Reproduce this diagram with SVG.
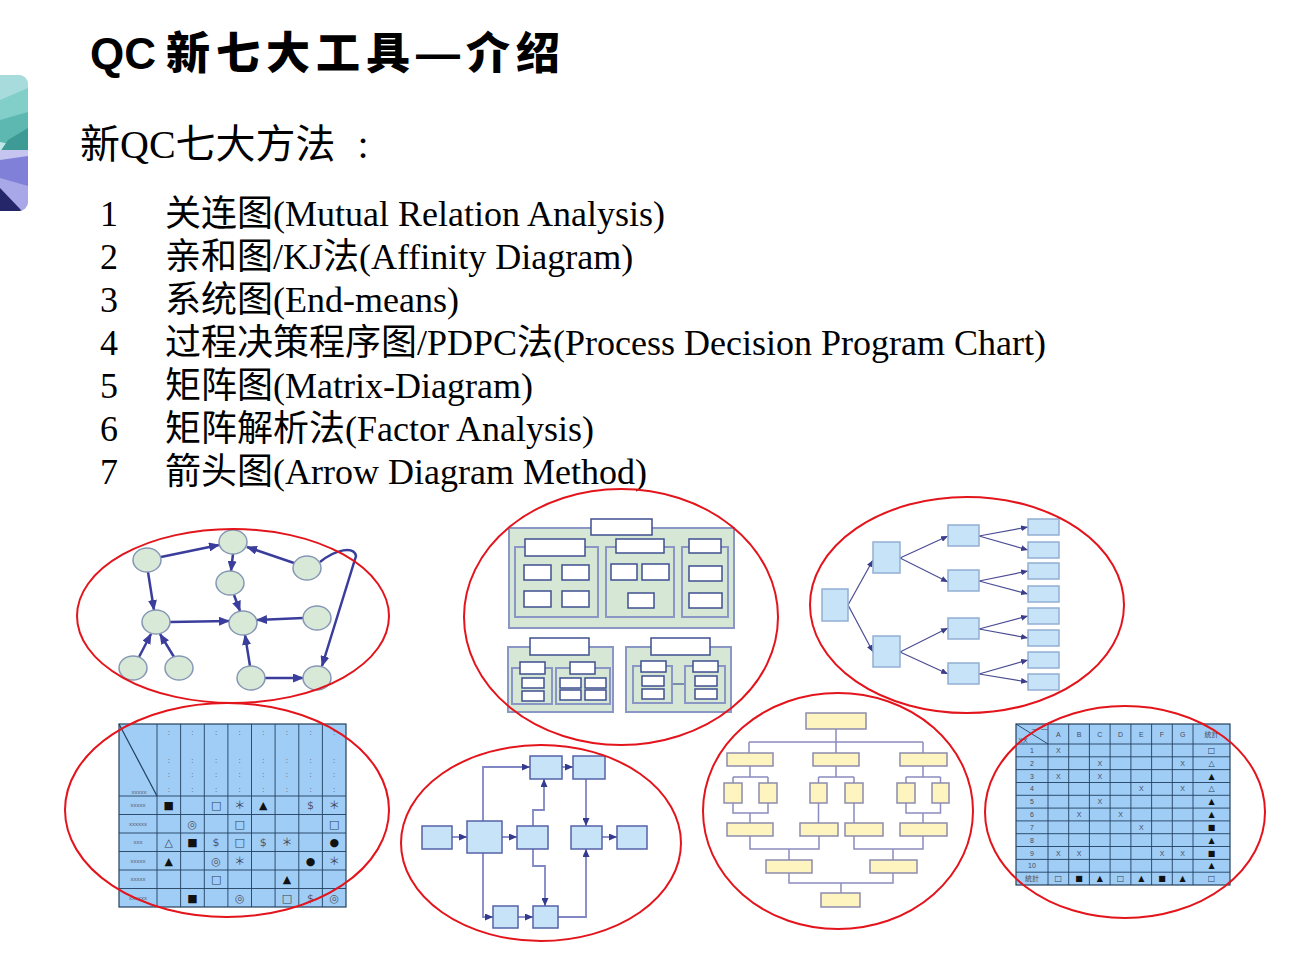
<svg xmlns="http://www.w3.org/2000/svg" width="1296" height="972" viewBox="0 0 1296 972">
<style>
.ring{fill:none;stroke:#e3141b;stroke-width:2}
.gn{fill:#d8e9d8;stroke:#8597b5;stroke-width:1.5}
.ge{fill:none;stroke:#3a3d9c;stroke-width:2.5;marker-end:url(#ah)}
.pan{fill:#d6e8d5;stroke:#8a96c4;stroke-width:2}
.wb{fill:#fff;stroke:#3f4f90;stroke-width:1.5}
.tb{fill:#c7e3f7;stroke:#93aed2;stroke-width:1.5}
.te{fill:none;stroke:#4a4c92;stroke-width:1.2;marker-end:url(#ta)}
.ab{fill:#c7e3f7;stroke:#5562a8;stroke-width:1.5}
.ae{fill:none;stroke:#8186c4;stroke-width:1.8;marker-end:url(#aa)}
.yb{fill:#fdf4c0;stroke:#8c8cae;stroke-width:1.5}
.yl{fill:none;stroke:#8c8cc0;stroke-width:1.5}
.mx{fill:#9fcdf6;stroke:#23405e;stroke-width:1.2}
.ml{fill:none;stroke:#23405e;stroke-width:0.9}
.sm{font-family:"Liberation Sans","Noto Sans CJK SC",sans-serif;font-size:6px;fill:#5a5a6a;text-anchor:middle}
.sx{font-family:"Liberation Sans","Noto Sans CJK SC",sans-serif;font-size:7px;fill:#4a4a5a;text-anchor:middle}
.sy{font-family:"DejaVu Sans","Noto Sans CJK SC",sans-serif;font-size:11px;text-anchor:middle;fill:#111}
.sz{font-family:"DejaVu Sans","Noto Sans CJK SC",sans-serif;font-size:8px;text-anchor:middle;fill:#111}
.co{font-family:"Liberation Sans",sans-serif;font-size:8px;text-anchor:middle;fill:#556}
.li{font-family:"Liberation Serif","Noto Sans CJK SC",serif;font-size:36px;fill:#000}
</style>
<defs>
<marker id="ah" markerUnits="userSpaceOnUse" markerWidth="11" markerHeight="9" refX="10" refY="4.5" orient="auto"><path d="M0,0 L11,4.5 L0,9 Z" fill="#3a3d9c"/></marker>
<marker id="ta" markerUnits="userSpaceOnUse" markerWidth="7" markerHeight="6" refX="7" refY="3" orient="auto"><path d="M0,0 L7,3 L0,6 Z" fill="#3a3d8c"/></marker>
<marker id="aa" markerUnits="userSpaceOnUse" markerWidth="8" markerHeight="7" refX="8" refY="3.5" orient="auto"><path d="M0,0 L8,3.5 L0,7 Z" fill="#343a8e"/></marker>
<clipPath id="dc"><rect x="-20" y="75" width="48" height="136" rx="9"/></clipPath>
</defs>

<g id="decor" clip-path="url(#dc)">
<rect x="-20" y="75" width="48" height="136" fill="#c0e6e8"/>
<polygon points="0,75 28,75 28,95 0,110" fill="#a8dcdc"/>
<polygon points="0,100 28,88 28,125 0,135" fill="#82cfca"/>
<polygon points="0,120 28,112 28,148 0,142" fill="#5cb8b0"/>
<polygon points="8,140 28,128 28,152 0,152" fill="#3d9a94"/>
<polygon points="0,150 28,150 28,175 0,168" fill="#c5c5f0"/>
<polygon points="0,160 28,156 28,190 0,182" fill="#8080d8"/>
<polygon points="0,178 28,186 28,211 0,211" fill="#a8a8e8"/>
<polygon points="0,188 22,211 0,211" fill="#25256a"/>
</g>

<g id="title">
<text x="90" y="69" font-family="'Liberation Sans','Noto Sans CJK SC',sans-serif" font-weight="900" font-size="44" fill="#000">QC<tspan x="166" letter-spacing="6">新七大工具—介绍</tspan></text>
</g>
<g id="subtitle">
<text x="80" y="158" font-family="'Liberation Serif','Noto Sans CJK SC',serif" font-size="40" fill="#000">新QC七大方法<tspan dx="22">:</tspan></text>
</g>
<g id="list">
<text class="li" x="100" y="226">1</text><text class="li" x="165" y="226">关连图(Mutual Relation Analysis)</text>
<text class="li" x="100" y="269">2</text><text class="li" x="165" y="269">亲和图/KJ法(Affinity Diagram)</text>
<text class="li" x="100" y="312">3</text><text class="li" x="165" y="312">系统图(End-means)</text>
<text class="li" x="100" y="355">4</text><text class="li" x="165" y="355">过程决策程序图/PDPC法(Process Decision Program Chart)</text>
<text class="li" x="100" y="398">5</text><text class="li" x="165" y="398">矩阵图(Matrix-Diagram)</text>
<text class="li" x="100" y="441">6</text><text class="li" x="165" y="441">矩阵解析法(Factor Analysis)</text>
<text class="li" x="100" y="484">7</text><text class="li" x="165" y="484">箭头图(Arrow Diagram Method)</text>
</g>

<!-- 1: relation graph -->
<g id="relation-graph">
<g id="rg-connectors">
<path class="ge" d="M161,557 L219,545"/>
<path class="ge" d="M294,563 L247,547"/>
<path class="ge" d="M233,554 L231,571"/>
<path class="ge" d="M234,595 L240,611"/>
<path class="ge" d="M148,572 L154,610"/>
<path class="ge" d="M170,622 L229,621"/>
<path class="ge" d="M303,618 L257,620"/>
<path class="ge" d="M139,657 L151,634"/>
<path class="ge" d="M174,657 L160,634"/>
<path class="ge" d="M250,666 L245,635"/>
<path class="ge" d="M265,678 L303,678"/>
<path class="ge" d="M320,562 C336,549 354,546 356,556 L322,666"/>
</g>
<g id="rg-nodes">
<ellipse class="gn" cx="233" cy="542" rx="14" ry="12"/>
<ellipse class="gn" cx="147" cy="560" rx="14" ry="12"/>
<ellipse class="gn" cx="307" cy="568" rx="14" ry="12"/>
<ellipse class="gn" cx="230" cy="583" rx="14" ry="12"/>
<ellipse class="gn" cx="156" cy="622" rx="14" ry="12"/>
<ellipse class="gn" cx="243" cy="623" rx="14" ry="12"/>
<ellipse class="gn" cx="317" cy="618" rx="14" ry="12"/>
<ellipse class="gn" cx="133" cy="668" rx="14" ry="12"/>
<ellipse class="gn" cx="179" cy="668" rx="14" ry="12"/>
<ellipse class="gn" cx="251" cy="678" rx="14" ry="12"/>
<ellipse class="gn" cx="317" cy="678" rx="14" ry="12"/>
</g>
</g>

<!-- 2: affinity diagram -->
<g id="affinity">
<rect class="pan" x="509" y="528" width="225" height="100"/>
<rect class="wb" x="591" y="519" width="61" height="16"/>
<rect class="pan" x="515" y="547" width="83" height="70"/>
<rect class="wb" x="525" y="539" width="60" height="17"/>
<rect class="wb" x="524" y="565" width="27" height="15"/>
<rect class="wb" x="562" y="565" width="27" height="15"/>
<rect class="wb" x="524" y="591" width="27" height="16"/>
<rect class="wb" x="562" y="591" width="27" height="16"/>
<rect class="pan" x="606" y="547" width="68" height="70"/>
<rect class="wb" x="616" y="539" width="48" height="14"/>
<rect class="wb" x="611" y="564" width="26" height="16"/>
<rect class="wb" x="642" y="564" width="27" height="16"/>
<rect class="wb" x="628" y="593" width="26" height="15"/>
<rect class="pan" x="682" y="547" width="46" height="70"/>
<rect class="wb" x="689" y="539" width="32" height="14"/>
<rect class="wb" x="689" y="566" width="33" height="15"/>
<rect class="wb" x="689" y="593" width="33" height="15"/>

<rect class="pan" x="508" y="647" width="105" height="65"/>
<rect class="wb" x="530" y="638" width="59" height="17"/>
<rect class="pan" x="512" y="668" width="40" height="36"/>
<rect class="wb" x="520" y="662" width="25" height="12"/>
<rect class="wb" x="522" y="678" width="22" height="10"/>
<rect class="wb" x="522" y="691" width="22" height="10"/>
<rect class="pan" x="556" y="668" width="54" height="36"/>
<rect class="wb" x="570" y="662" width="25" height="12"/>
<rect class="wb" x="560" y="678" width="21" height="10"/>
<rect class="wb" x="585" y="678" width="21" height="10"/>
<rect class="wb" x="560" y="690" width="21" height="10"/>
<rect class="wb" x="585" y="690" width="21" height="10"/>

<rect class="pan" x="626" y="647" width="105" height="65"/>
<rect class="wb" x="651" y="638" width="59" height="17"/>
<line x1="672" y1="684" x2="685" y2="684" stroke="#3f4f90" stroke-width="1.2"/>
<rect class="pan" x="633" y="666" width="39" height="37"/>
<rect class="wb" x="641" y="661" width="25" height="11"/>
<rect class="wb" x="642" y="676" width="22" height="10"/>
<rect class="wb" x="642" y="689" width="22" height="10"/>
<rect class="pan" x="685" y="666" width="40" height="37"/>
<rect class="wb" x="693" y="661" width="25" height="11"/>
<rect class="wb" x="695" y="676" width="22" height="10"/>
<rect class="wb" x="695" y="689" width="22" height="10"/>
</g>

<!-- 3: system (tree) diagram -->
<g id="system-tree">
<g id="st-connectors">
<path class="te" d="M848,605 L873,560"/>
<path class="te" d="M848,605 L873,652"/>
<path class="te" d="M900,558 L948,536"/>
<path class="te" d="M900,558 L948,582"/>
<path class="te" d="M900,652 L948,628"/>
<path class="te" d="M900,652 L948,674"/>
<path class="te" d="M979,536 L1028,527"/>
<path class="te" d="M979,536 L1028,550"/>
<path class="te" d="M979,581 L1028,571"/>
<path class="te" d="M979,581 L1028,594"/>
<path class="te" d="M979,629 L1028,616"/>
<path class="te" d="M979,629 L1028,638"/>
<path class="te" d="M979,674 L1028,660"/>
<path class="te" d="M979,674 L1028,682"/>
</g>
<g id="st-nodes">
<rect class="tb" x="822" y="589" width="26" height="32"/>
<rect class="tb" x="873" y="542" width="27" height="31"/>
<rect class="tb" x="873" y="636" width="27" height="31"/>
<rect class="tb" x="948" y="525" width="31" height="21"/>
<rect class="tb" x="948" y="570" width="31" height="21"/>
<rect class="tb" x="948" y="618" width="31" height="21"/>
<rect class="tb" x="948" y="663" width="31" height="21"/>
<rect class="tb" x="1028" y="519" width="31" height="16"/>
<rect class="tb" x="1028" y="542" width="31" height="16"/>
<rect class="tb" x="1028" y="563" width="31" height="16"/>
<rect class="tb" x="1028" y="586" width="31" height="16"/>
<rect class="tb" x="1028" y="608" width="31" height="16"/>
<rect class="tb" x="1028" y="630" width="31" height="16"/>
<rect class="tb" x="1028" y="652" width="31" height="16"/>
<rect class="tb" x="1028" y="674" width="31" height="16"/>
</g>
</g>

<!-- 4: matrix diagram -->
<g id="matrix">
<rect class="mx" x="119" y="724" width="227" height="183"/>
<path class="ml" d="M157,724V907 M180.6,724V907 M204.3,724V907 M227.9,724V907 M251.5,724V907 M275.1,724V907 M298.8,724V907 M322.4,724V907 M119,796H346 M119,814.5H346 M119,833H346 M119,851.5H346 M119,870H346 M119,888.5H346"/>
<line x1="119" y1="724" x2="157" y2="796" stroke="#23405e" stroke-width="1.2"/>
<g class="co">
<text x="168.8" y="735">:</text><text x="168.8" y="763">:</text><text x="168.8" y="777">:</text><text x="168.8" y="792">:</text>
<text x="192.4" y="735">:</text><text x="192.4" y="763">:</text><text x="192.4" y="777">:</text><text x="192.4" y="792">:</text>
<text x="216.1" y="735">:</text><text x="216.1" y="763">:</text><text x="216.1" y="777">:</text><text x="216.1" y="792">:</text>
<text x="239.7" y="735">:</text><text x="239.7" y="763">:</text><text x="239.7" y="777">:</text><text x="239.7" y="792">:</text>
<text x="263.3" y="735">:</text><text x="263.3" y="763">:</text><text x="263.3" y="777">:</text><text x="263.3" y="792">:</text>
<text x="286.9" y="735">:</text><text x="286.9" y="763">:</text><text x="286.9" y="777">:</text><text x="286.9" y="792">:</text>
<text x="310.6" y="735">:</text><text x="310.6" y="763">:</text><text x="310.6" y="777">:</text><text x="310.6" y="792">:</text>
<text x="334.2" y="735">:</text><text x="334.2" y="763">:</text><text x="334.2" y="777">:</text><text x="334.2" y="792">:</text>
</g>
<text class="sm" x="139" y="794">xxxxx</text>
<text class="sm" x="138" y="807">xxxxx</text>
<text class="sm" x="138" y="826">xxxxxx</text>
<text class="sm" x="138" y="844">xxx</text>
<text class="sm" x="138" y="863">xxxxx</text>
<text class="sm" x="138" y="881">xxxxx</text>
<text class="sm" x="138" y="900">xxxxxx</text>
<g class="sy">
<text x="168.8" y="809">■</text><text x="216.1" y="809" fill="#345">□</text><text x="239.7" y="809" fill="#445">＊</text><text x="263.3" y="809">▲</text><text x="310.6" y="809" fill="#556">$</text><text x="334.2" y="809" fill="#445">＊</text>
<text x="192.4" y="828" fill="#556">◎</text><text x="239.7" y="828" fill="#345">□</text><text x="334.2" y="828" fill="#345">□</text>
<text x="168.8" y="846" fill="#345">△</text><text x="192.4" y="846">■</text><text x="216.1" y="846" fill="#556">$</text><text x="239.7" y="846" fill="#345">□</text><text x="263.3" y="846" fill="#556">$</text><text x="286.9" y="846" fill="#445">＊</text><text x="334.2" y="846">●</text>
<text x="168.8" y="865">▲</text><text x="216.1" y="865" fill="#556">◎</text><text x="239.7" y="865" fill="#445">＊</text><text x="310.6" y="865">●</text><text x="334.2" y="865" fill="#445">＊</text>
<text x="216.1" y="883" fill="#345">□</text><text x="286.9" y="883">▲</text>
<text x="192.4" y="902">■</text><text x="239.7" y="902" fill="#556">◎</text><text x="286.9" y="902" fill="#345">□</text><text x="310.6" y="902" fill="#556">$</text><text x="334.2" y="902" fill="#556">◎</text>
</g>
</g>

<!-- 5: arrow diagram -->
<g id="arrow-diagram">
<g id="ad-connectors">
<path class="ae" d="M452,837 H467"/>
<path class="ae" d="M502,837 H517"/>
<path class="ae" d="M483,821 V767 H530"/>
<path class="ae" d="M483,853 V917 H493"/>
<path class="ae" d="M533,826 V810 H544 V779"/>
<path class="ae" d="M533,849 V866 H545 V906"/>
<path class="ae" d="M562,767 H573"/>
<path class="ae" d="M586,779 V826"/>
<path class="ae" d="M518,917 H533"/>
<path class="ae" d="M558,917 H586 V849"/>
<path class="ae" d="M602,837 H617"/>
</g>
<g id="ad-nodes">
<rect class="ab" x="422" y="826" width="30" height="23"/>
<rect class="ab" x="467" y="821" width="35" height="32"/>
<rect class="ab" x="517" y="826" width="31" height="23"/>
<rect class="ab" x="530" y="756" width="32" height="23"/>
<rect class="ab" x="573" y="756" width="32" height="23"/>
<rect class="ab" x="571" y="826" width="31" height="23"/>
<rect class="ab" x="617" y="826" width="30" height="23"/>
<rect class="ab" x="493" y="906" width="25" height="22"/>
<rect class="ab" x="533" y="906" width="25" height="22"/>
</g>
</g>

<!-- 6: PDPC -->
<g id="pdpc">
<path class="yl" d="M836,729V742 M749,742H923 M749,742V753 M836,742V753 M923,742V753
M750,766V777 M733,777H768 M733,777V783 M768,777V783
M836,766V777 M818.5,777H854 M818.5,777V783 M854,777V783
M923,766V777 M906,777H940.5 M906,777V783 M940.5,777V783
M733,803V813H768V803 M750,813V823
M818.5,803V823 M854,803V823
M906,803V813H940.5V803 M923,813V823
M750,836V849H819V836 M789,849V860
M854,836V849H923V836 M893,849V860
M789,873V883H893V873 M841,883V893"/>
<rect class="yb" x="806" y="713" width="60" height="16"/>
<rect class="yb" x="727" y="753" width="46" height="13"/>
<rect class="yb" x="813" y="753" width="46" height="13"/>
<rect class="yb" x="900" y="753" width="47" height="13"/>
<rect class="yb" x="724" y="783" width="18" height="20"/>
<rect class="yb" x="759" y="783" width="18" height="20"/>
<rect class="yb" x="810" y="783" width="17" height="20"/>
<rect class="yb" x="845" y="783" width="18" height="20"/>
<rect class="yb" x="897" y="783" width="18" height="20"/>
<rect class="yb" x="932" y="783" width="17" height="20"/>
<rect class="yb" x="727" y="823" width="46" height="13"/>
<rect class="yb" x="800" y="823" width="38" height="13"/>
<rect class="yb" x="845" y="823" width="38" height="13"/>
<rect class="yb" x="900" y="823" width="47" height="13"/>
<rect class="yb" x="766" y="860" width="46" height="13"/>
<rect class="yb" x="870" y="860" width="47" height="13"/>
<rect class="yb" x="821" y="893" width="39" height="14"/>
</g>

<!-- 7: factor analysis matrix -->
<g id="factor-matrix">
<rect class="mx" x="1016" y="724" width="214" height="161"/>
<path class="ml" d="M1048,724V885 M1068.7,724V885 M1089.4,724V885 M1110.1,724V885 M1130.9,724V885 M1151.6,724V885 M1172.3,724V885 M1193,724V885
M1016,744H1230 M1016,756.8H1230 M1016,769.6H1230 M1016,782.5H1230 M1016,795.3H1230 M1016,808.1H1230 M1016,820.9H1230 M1016,833.7H1230 M1016,846.5H1230 M1016,859.4H1230 M1016,872.2H1230"/>
<line x1="1016" y1="724" x2="1048" y2="744" stroke="#23405e" stroke-width="0.9"/>
<g class="sx">
<text x="1040" y="731">— —</text><text x="1023" y="743">XX</text>
<text x="1058.4" y="737">A</text><text x="1079.1" y="737">B</text><text x="1099.8" y="737">C</text><text x="1120.5" y="737">D</text><text x="1141.3" y="737">E</text><text x="1162" y="737">F</text><text x="1182.7" y="737">G</text><text x="1211.5" y="737">統計</text>
<text x="1032" y="753">1</text><text x="1032" y="766">2</text><text x="1032" y="779">3</text><text x="1032" y="791">4</text><text x="1032" y="804">5</text><text x="1032" y="817">6</text><text x="1032" y="830">7</text><text x="1032" y="843">8</text><text x="1032" y="856">9</text><text x="1032" y="868">10</text><text x="1032" y="881">統計</text>
<text x="1058.4" y="753">X</text>
<text x="1099.8" y="766">X</text><text x="1182.7" y="766">X</text>
<text x="1058.4" y="779">X</text><text x="1099.8" y="779">X</text>
<text x="1141.3" y="791">X</text><text x="1182.7" y="791">X</text>
<text x="1099.8" y="804">X</text>
<text x="1079.1" y="817">X</text><text x="1120.5" y="817">X</text>
<text x="1141.3" y="830">X</text>
<text x="1058.4" y="856">X</text><text x="1079.1" y="856">X</text><text x="1162" y="856">X</text><text x="1182.7" y="856">X</text>
</g>
<g class="sz">
<text x="1211.5" y="753" fill="#345">□</text>
<text x="1211.5" y="766" fill="#345">△</text>
<text x="1211.5" y="779">▲</text>
<text x="1211.5" y="791" fill="#345">△</text>
<text x="1211.5" y="804">▲</text>
<text x="1211.5" y="817">▲</text>
<text x="1211.5" y="830">■</text>
<text x="1211.5" y="843">▲</text>
<text x="1211.5" y="856">■</text>
<text x="1211.5" y="868">▲</text>
<text x="1211.5" y="881" fill="#345">□</text>
<text x="1058.4" y="881" fill="#345">□</text><text x="1079.1" y="881">■</text><text x="1099.8" y="881">▲</text><text x="1120.5" y="881" fill="#345">□</text><text x="1141.3" y="881">▲</text><text x="1162" y="881">■</text><text x="1182.7" y="881">▲</text>
</g>
</g>

<g id="rings">
<ellipse class="ring" cx="233" cy="616" rx="156" ry="87"/>
<ellipse class="ring" cx="621" cy="617" rx="157" ry="128"/>
<ellipse class="ring" cx="967" cy="605" rx="157" ry="108"/>
<ellipse class="ring" cx="227" cy="810" rx="162" ry="107"/>
<ellipse class="ring" cx="541" cy="843" rx="140" ry="98"/>
<ellipse class="ring" cx="838" cy="811" rx="135" ry="118"/>
<ellipse class="ring" cx="1125" cy="812" rx="140" ry="106"/>
</g>
</svg>
